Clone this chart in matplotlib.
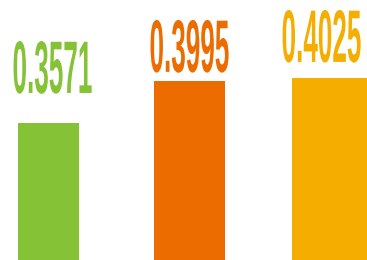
import matplotlib
matplotlib.use("Agg")
import matplotlib.pyplot as plt
from matplotlib.patheffects import AbstractPathEffect
from matplotlib.transforms import Affine2D

categories = ["A", "B", "C"]
values = [0.3571, 0.3995, 0.4025]
colors = ["#85c236", "#ec6c00", "#f5ae00"]


class Stretch(AbstractPathEffect):
    # draws the glyphs stretched about the text baseline (tall condensed look)
    def __init__(self, sx=1.0, sy=1.0):
        super().__init__()
        self.sx, self.sy = sx, sy

    def draw_path(self, renderer, gc, tpath, affine, rgbFace=None):
        renderer.draw_path(gc, tpath, Affine2D().scale(self.sx, self.sy) + affine, rgbFace)


fig = plt.figure(figsize=(3.67, 2.6), dpi=100)
ax = fig.add_axes([0, 0, 1, 1])

pos = range(len(categories))
ax.bar(pos, values, width=[0.43, 0.50, 0.54], color=colors)

# label nudges in pixels
dx = [4, 0, -9]
dy = [30, 9, 16]
for i, v in enumerate(values):
    ax.annotate(f"{v:.4f}", (i, v), xytext=(dx[i], dy[i]), textcoords="offset pixels",
                ha="center", va="baseline", color=colors[i],
                fontsize=18.8, fontweight="bold", family="Liberation Sans",
                path_effects=[Stretch(1.0, 2.85)])

ax.set_xlim(-0.344, 2.259)
ax.set_ylim(0.219, 0.481)
ax.axis("off")

fig.savefig("out.png", dpi=100)
